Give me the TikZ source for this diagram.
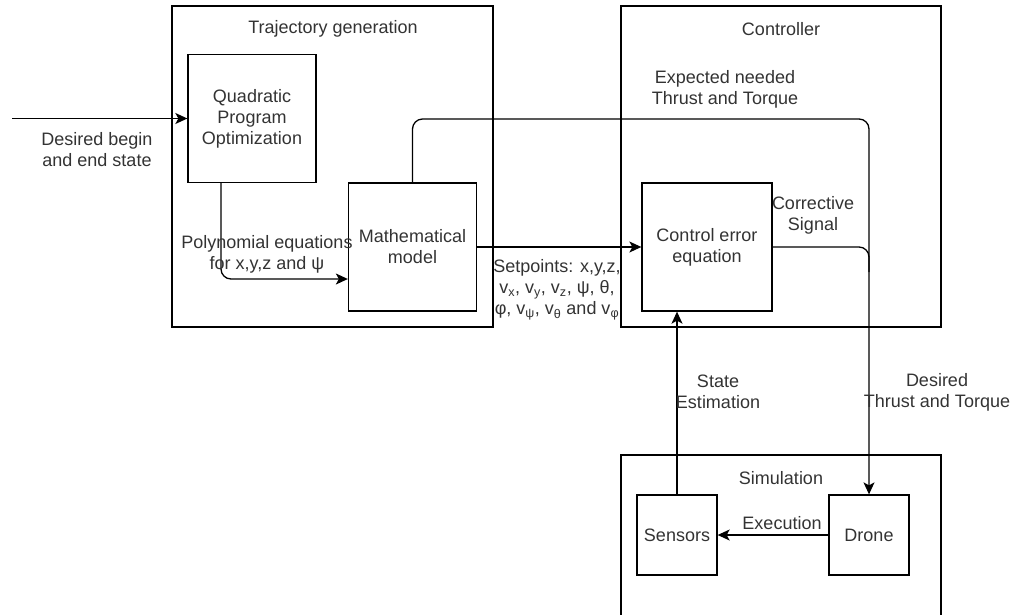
\documentclass[tikz,border=0pt]{standalone}
\usepackage{fontspec}
\setmainfont{Liberation Sans}
\usetikzlibrary{calc,arrows.meta}

\begin{document}
\begin{tikzpicture}[x=1pt,y=-1pt,
  every node/.style={font=\fontsize{18}{21}\selectfont,text=black!80},
  group/.style={draw,line width=1.3pt,inner sep=0pt},
  block/.style={draw,line width=1.3pt,inner sep=0pt,align=center,minimum width=128pt,minimum height=128pt},
  smallblock/.style={block,minimum width=80pt,minimum height=80pt},
  lbl/.style={align=center,inner sep=0pt},
  line/.style={line width=1.3pt},
  arr/.style={line,-{Stealth[length=12pt,width=11pt,inset=3pt]}}]

\useasboundingbox (0,0) rectangle (1014,614);

% groups
\node[group,minimum width=321pt,minimum height=321pt] (traj) at (332.5,166.5) {};
\node[group,minimum width=320pt,minimum height=321pt] (ctrl) at (781,166.5) {};
\node[group,minimum width=320pt,minimum height=200pt] (sim) at (781,555) {};

\node[lbl] (trajtitle) at (333,29) {Trajectory generation};
\node[lbl] (ctrltitle) at (781,29) {Controller};
\node[lbl] (simtitle) at (781,478) {Simulation};

% blocks
\node[block] (qp) at (252,118.5) {Quadratic\\Program\\Optimization};
\node[block] (math) at (412.5,247) {Mathematical\\model};
\node[block,minimum width=130pt] (ce) at (707,247) {Control error\\equation};
\node[smallblock] (sensors) at (677,535) {Sensors};
\node[smallblock] (drone) at (869,535) {Drone};

% connectors
\coordinate (start) at (12,118.5);
\coordinate (bend) at (869,119);

\draw[arr] (start) -- (qp.west);
\draw[arr,rounded corners=10pt] ([xshift=-31pt]qp.south) |- ([yshift=-32pt]math.west);
\draw[arr,rounded corners=10pt] (math.north) |- (bend) -- (drone.north);
\draw[arr] (math.east) -- (ce.west);
\draw[line,rounded corners=10pt] (ce.east) -| ($(ce.east -| bend)+(0,25)$);
\draw[arr] (sensors.north) -- (sensors.north |- ce.south);
\draw[arr] (drone.west) -- (sensors.east);

% labels
\node[lbl] (inlbl) at (97,150) {Desired begin\\and end state};
\node[lbl] (polylbl) at (267,254) {Polynomial equations\\for x,y,z and ψ};
\node[lbl] (explbl) at (725,89) {Expected needed\\Thrust and Torque};
\node[lbl] (corrlbl) at (813,215) {Corrective\\Signal};
\node[lbl] (setlbl) at (557,290) {Setpoints: x,y,z,\\v\textsubscript{x}, v\textsubscript{y}, v\textsubscript{z}, ψ, θ,\\φ, v\textsubscript{ψ}, v\textsubscript{θ} and v\textsubscript{φ}};
\node[lbl] (statelbl) at (718,392) {State\\Estimation};
\node[lbl] (deslbl) at (937,392) {Desired\\Thrust and Torque};
\node[lbl] (execlbl) at (782,523) {Execution};

\end{tikzpicture}
\end{document}
